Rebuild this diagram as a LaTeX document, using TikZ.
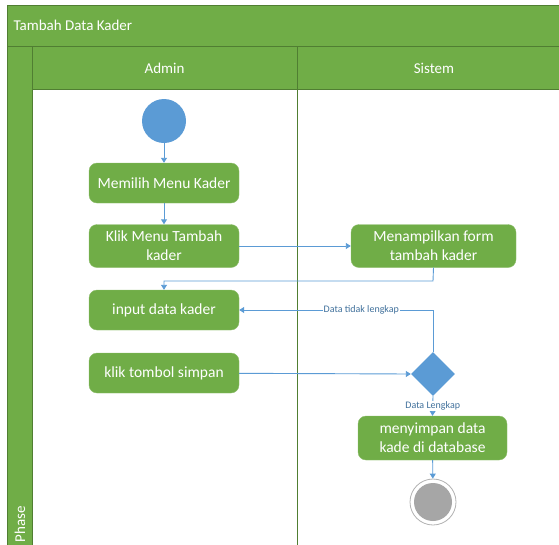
\documentclass[tikz,border=0pt]{standalone}
\usepackage{fontspec}
\setmainfont{Carlito}
\usetikzlibrary{shapes.geometric,arrows.meta}
\definecolor{gfill}{HTML}{70AD47}
\definecolor{gline}{HTML}{507E32}
\definecolor{bl}{HTML}{5B9BD5}
\definecolor{lbl}{HTML}{41719C}
\begin{document}
\begin{tikzpicture}[x=1pt,y=-1pt,
  act/.style={fill=gfill,draw=gfill!80!white,rounded corners=8pt,text=white,font=\fontsize{15.5}{19}\selectfont,align=center,minimum width=150pt,inner sep=0pt},
  lane/.style={fill=gfill,draw=gline,line width=1pt},
  hdr/.style={text=white,font=\fontsize{15}{18}\selectfont},
  flow/.style={draw=bl,line width=0.9pt,-{Triangle[length=5pt,width=6pt]}},
  edgelbl/.style={fill=white,text=lbl,font=\fontsize{10}{12}\selectfont,inner sep=1pt}]
\useasboundingbox (0,0) rectangle (559,544);
\clip (0,0) rectangle (559,544);
% swimlane frame
\draw[lane] (7,5) rectangle (600,46);
\node[hdr,anchor=west] (title) at (10,25) {Tambah Data Kader};
\draw[lane] (7,46) rectangle (32,600);
\draw[lane] (32,46) rectangle (297,89);
\draw[lane] (297,46) rectangle (600,89);
\draw[gline,line width=1pt] (32,89) -- (32,600);
\draw[gline,line width=1pt] (297,89) -- (297,600);
\node[hdr] (admin) at (164.5,68) {Admin};
\node[hdr] (sistem) at (434,68) {Sistem};
\node[hdr,rotate=90,anchor=west] (phase) at (20,546) {Phase};
% nodes
\node[circle,fill=bl,minimum size=44pt,inner sep=0pt] (start) at (164,121) {};
\node[act,minimum height=40pt] (memilih) at (164,183) {Memilih Menu Kader};
\node[act,minimum height=43pt] (klik) at (164,246) {Klik Menu Tambah\\kader};
\node[act,minimum height=43pt,minimum width=165pt] (tampil) at (433.5,246) {Menampilkan form\\tambah kader};
\node[act,minimum height=40pt] (input) at (164,310) {input data kader};
\node[act,minimum height=40pt] (simpan) at (164,373) {klik tombol simpan};
\node[diamond,fill=bl,minimum width=44pt,minimum height=44pt,inner sep=0pt] (dec) at (433,374) {};
\node[act,minimum height=44pt,minimum width=149pt] (db) at (432.5,438) {menyimpan data\\kade di database};
\node[circle,draw=gray!60,fill=white,line width=0.8pt,minimum size=46pt,inner sep=0pt] (endo) at (433,502) {};
\node[circle,fill=gray!70,minimum size=38pt,inner sep=0pt] (endi) at (433,502) {};
\coordinate (c1) at (433,281);
\coordinate (c2) at (164,281);
\coordinate (c3) at (433,310);
% connectors
\draw[flow] (start) -- (memilih);
\draw[flow] (memilih) -- (klik);
\draw[flow] (klik) -- (tampil);
\draw[flow] (tampil.south) -- (c1) -- (c2) -- (input.north);
\draw[flow] (dec.north) -- (c3) -- node[edgelbl,pos=0.37] (l1) {Data tidak lengkap} (input.east);
\draw[flow] (simpan) -- (dec.west);
\draw[flow] (dec.south) -- node[edgelbl,pos=0.5] (l2) {Data Lengkap} (db.north);
\draw[flow] (db) -- (endo);
\end{tikzpicture}
\end{document}
